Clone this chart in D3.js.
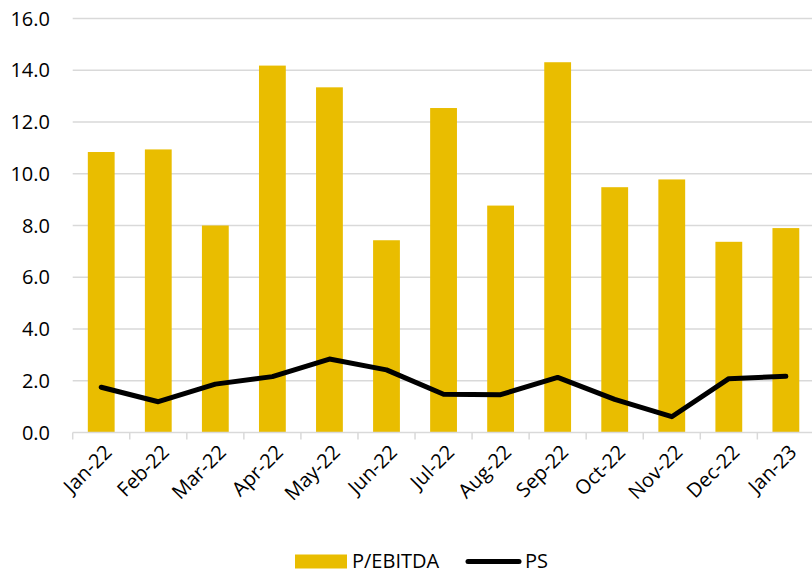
<!DOCTYPE html>
<html>
<head>
<meta charset="utf-8">
<script src="https://cdn.jsdelivr.net/npm/d3@7"></script>
<style>
  html, body { margin: 0; padding: 0; background: #fff; }
  svg { display: block; }
  text { font-family: "Open Sans", "Noto Sans", sans-serif; fill: #000; }
</style>
</head>
<body>
<svg id="chart" width="812" height="573"></svg>
<script>
const categories = ["Jan-22","Feb-22","Mar-22","Apr-22","May-22","Jun-22","Jul-22","Aug-22","Sep-22","Oct-22","Nov-22","Dec-22","Jan-23"];
const pEbitda = [10.84, 10.94, 8.0, 14.18, 13.34, 7.43, 12.54, 8.77, 14.31, 9.48, 9.78, 7.37, 7.90];
const ps = [1.75, 1.19, 1.87, 2.16, 2.84, 2.42, 1.48, 1.46, 2.13, 1.28, 0.61, 2.08, 2.17];
const yTicks = [0, 2, 4, 6, 8, 10, 12, 14, 16];
const seriesNames = ["P/EBITDA", "PS"];

const svg = d3.select("#chart");
const plotLeft = 72.7, plotRight = 814.4, plotTop = 18.5, plotBottom = 432.5;

const x = d3.scaleBand().domain(categories).range([plotLeft, plotRight]).padding(0);
const y = d3.scaleLinear().domain([0, 16]).range([plotBottom, plotTop]);

// gridlines
svg.append("g").selectAll("line").data(yTicks.filter(d => d > 0)).join("line")
  .attr("x1", plotLeft).attr("x2", plotRight)
  .attr("y1", d => y(d)).attr("y2", d => y(d))
  .attr("stroke", "#d9d9d9").attr("stroke-width", 1.5);

// y labels
svg.append("g").selectAll("text").data(yTicks).join("text")
  .attr("x", 50).attr("y", d => y(d))
  .attr("dy", "0.36em")
  .attr("text-anchor", "end")
  .style("font-size", "20px")
  .text(d => d.toFixed(1));

// bars
const barW = x.bandwidth() * 0.47;
svg.append("g").selectAll("rect").data(categories).join("rect")
  .attr("x", (d) => x(d) + (x.bandwidth() - barW) / 2)
  .attr("width", barW)
  .attr("y", (d, i) => y(pEbitda[i]))
  .attr("height", (d, i) => y(0) - y(pEbitda[i]))
  .attr("fill", "#E9BD00");

// x axis line
svg.append("line")
  .attr("x1", plotLeft).attr("x2", plotRight)
  .attr("y1", y(0)).attr("y2", y(0))
  .attr("stroke", "#d9d9d9").attr("stroke-width", 1.5);

// ticks at band boundaries
const boundaries = categories.map(d => x(d)).concat([plotRight]);
svg.append("g").selectAll("line").data(boundaries).join("line")
  .attr("x1", d => d).attr("x2", d => d)
  .attr("y1", y(0)).attr("y2", y(0) + 7)
  .attr("stroke", "#d9d9d9").attr("stroke-width", 1.5);

// x labels
svg.append("g").selectAll("text").data(categories).join("text")
  .attr("transform", d => `translate(${x(d) + x.bandwidth() / 2 + 7},${y(0) + 16}) rotate(-45)`)
  .attr("text-anchor", "end")
  .attr("dy", "0.35em")
  .style("font-size", "20px")
  .text(d => d);

// PS line
const line = d3.line()
  .x((d, i) => x(categories[i]) + x.bandwidth() / 2)
  .y(d => y(d));
svg.append("path").datum(ps)
  .attr("d", line)
  .attr("fill", "none")
  .attr("stroke", "#000")
  .attr("stroke-width", 5)
  .attr("stroke-linejoin", "round")
  .attr("stroke-linecap", "round");

// legend
const lg = svg.append("g");
lg.append("rect").attr("x", 295).attr("y", 554.5).attr("width", 52).attr("height", 14).attr("fill", "#E9BD00");
lg.append("text").attr("x", 352).attr("y", 568).style("font-size", "20px").text(seriesNames[0]);
lg.append("line").attr("x1", 468).attr("x2", 519).attr("y1", 561.5).attr("y2", 561.5)
  .attr("stroke", "#000").attr("stroke-width", 5).attr("stroke-linecap", "round");
lg.append("text").attr("x", 525).attr("y", 568).style("font-size", "20px").text(seriesNames[1]);
</script>
</body>
</html>
